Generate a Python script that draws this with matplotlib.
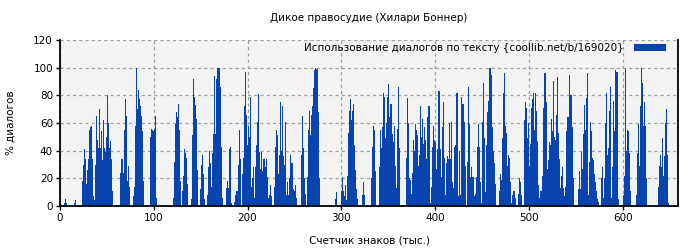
import matplotlib
matplotlib.use("Agg")
import matplotlib.pyplot as plt
import numpy as np

# Share of dialogue (%) per thousand characters, split by hundreds
share_001_100 = [
    0, 0, 0, 0, 2, 5, 2, 0, 0, 0, 0, 0, 0, 0, 2, 6, 4, 1, 0, 0, 0, 0, 0,
    18, 30, 41, 34, 16, 26, 34, 55, 60, 57, 58, 34, 7, 4, 30, 65, 48, 42, 70, 42,
    54, 33, 62, 42, 38, 39, 50, 80, 60, 42, 47, 34, 11,
    0, 0, 0, 0, 0, 0, 0,
    8, 24, 34, 34, 24, 55, 77, 65, 18, 29, 14,
    0, 0, 0,
    7, 14, 41, 58, 100, 70, 84, 77, 72, 65, 54, 18,
    0, 0, 0, 0, 0, 0,
    22, 50, 56, 55, 54,
]
share_101_200 = [
    56, 65, 6,
    0, 0, 0, 0, 0, 0, 0, 0, 0, 0, 0, 0, 0, 0, 0, 0, 0,
    6, 32, 59, 68, 64, 74, 55, 18, 0, 0,
    11, 22, 41, 38, 35, 16, 0, 0, 0,
    5, 51, 92, 79, 73, 73, 63, 26, 0, 0,
    12, 30, 37, 23, 5, 0, 0,
    8, 28, 40, 31, 27, 14, 38, 52, 94, 52, 92, 100, 100, 100, 86, 43, 6,
    0, 0, 0,
    3, 13, 18, 13, 41, 43, 2, 0, 0,
    3, 8, 11, 11, 30, 55, 34, 27, 0,
    23, 35, 72, 97, 66, 44,
]
share_201_300 = [
    58, 50, 79, 14, 20, 28, 6, 28, 32, 44, 61, 81, 39, 27, 39, 25, 34, 34, 28,
    34, 21, 6, 8, 15, 15, 7, 0, 0,
    14, 43, 55, 51, 23, 37, 75, 40, 72, 36, 30, 61, 42, 8, 17, 8, 20, 37, 31,
    31, 12, 11, 15, 6, 0, 0, 0, 0,
    5, 37, 65, 42, 20, 9, 1, 21, 55, 69, 51, 66, 72, 85, 98, 100, 100, 99, 99,
    68, 20,
    0, 0, 0, 0, 0, 0, 0, 0, 0, 0, 0, 0, 0, 0, 0, 0,
    5, 10, 0, 0, 0, 0, 11,
]
share_301_400 = [
    21, 11, 7, 15, 18, 4, 22, 53, 69, 77, 62, 69, 74, 44, 26, 12, 5,
    0, 0, 0, 0, 0, 8, 17, 8, 0, 0, 0, 0, 0, 0,
    20, 43, 58, 55, 25, 0, 0, 0, 0,
    28, 55, 42, 57, 82, 79, 49, 60, 79, 88, 64, 74, 74, 46, 52, 46, 58, 29, 13,
    56, 86, 42, 0, 0, 0, 0, 0, 0,
    35, 75, 78, 60, 20, 19, 9, 24, 48, 40, 59, 55, 51, 29, 37, 72, 50,
    32, 63, 45, 57, 48, 34, 64, 72, 72, 2, 14, 43, 58, 48, 46,
]
share_401_500 = [
    27, 8, 41, 83, 83, 41, 21, 57, 75, 35, 8, 31, 36, 34, 60, 34, 61, 33, 17,
    13, 43, 44, 82, 82, 7, 40, 8, 79, 74, 74, 61, 29, 0, 3, 32, 86, 59, 21, 28,
    21,
    21, 7, 9, 21, 43, 59, 43, 17, 2, 16, 61, 89, 49, 10, 44, 68, 76, 100, 100,
    95, 57, 40, 31, 16, 0, 0, 0, 0,
    11, 23, 19, 49, 82, 96, 58, 53, 29, 37, 35, 17, 2, 4, 8, 11, 11, 6, 0, 0,
    9, 20, 17, 8, 0, 0,
    62, 75, 71, 59, 49, 60,
]
share_501_600 = [
    29, 45, 71, 77, 82, 55, 82, 69, 47, 15, 6, 11, 11, 22, 31, 71, 96, 96, 75,
    27, 33, 46, 44, 63, 54, 90, 50, 48, 66, 93, 57, 53, 34, 13, 22, 28, 13, 7,
    14, 54, 64, 64, 95, 80, 80, 57, 60, 20, 0, 0, 0, 0,
    12, 25, 12, 39, 27, 52, 73, 55, 78, 96, 56, 8, 32, 61, 54, 35, 33, 23, 17,
    11, 5, 3, 0, 0,
    20, 28, 41, 6, 20, 60, 82, 37, 42, 69, 86, 6, 28, 76, 54, 98, 97, 97, 81, 5,
    0, 0, 0, 0,
]
share_601_649 = [
    8, 22, 99, 40, 55, 54, 38, 11, 0, 0, 0, 0, 0, 0,
    8, 38, 59, 29, 72, 100, 89, 58, 75, 58, 20,
    0, 0, 0, 0, 0, 0, 0, 0, 0, 0, 0, 0,
    14, 29, 37, 28, 49, 47, 22, 36, 60, 70, 37, 2,
]

x_ticks = [0, 100, 200, 300, 400, 500, 600]
y_ticks = [0, 20, 40, 60, 80, 100, 120]

title = "Дикое правосудие (Хилари Боннер)"
legend_label = "Использование диалогов по тексту {coollib.net/b/169020}"


def main():
    plt.rcParams["font.family"] = ["DejaVu Sans"]
    plt.rcParams["font.size"] = 7.5

    values = np.concatenate([share_001_100, share_101_200, share_201_300,
                             share_301_400, share_401_500, share_501_600,
                             share_601_649])
    pos = np.arange(1, len(values) + 1)

    fig = plt.figure(figsize=(7, 2.5), dpi=100)
    ax = fig.add_axes([0.0857, 0.176, 0.8829, 0.664])
    ax.set_facecolor("#f3f3f3")

    ax.bar(pos, values, width=1.0, color="#0844ad", linewidth=0,
           label=legend_label, zorder=2)

    ax.set_xlim(0, 659)
    ax.set_ylim(0, 120)
    ax.set_xticks(x_ticks)
    ax.set_yticks(y_ticks)
    ax.grid(True, color="#a0a0a0", linestyle=(0, (2.5, 2.5)), linewidth=0.9,
            zorder=1)
    ax.set_axisbelow(True)

    for side in ["left", "bottom", "right"]:
        ax.spines[side].set_linewidth(1.3)
        ax.spines[side].set_color("black")
    ax.spines["top"].set_visible(False)
    ax.tick_params(length=3, width=1, pad=2)

    ax.set_xlabel("Счетчик знаков (тыс.)", labelpad=9)
    ax.set_ylabel("% диалогов", labelpad=13)
    fig.text(0.527, 1 - 18 / 250, title, ha="center", va="center")

    ax.legend(loc="upper right", bbox_to_anchor=(0.983, 0.986),
              frameon=False, markerfirst=False,
              handlelength=3.1, handleheight=0.7, borderaxespad=0,
              borderpad=0.1, handletextpad=1.0)

    fig.savefig("out.png", dpi=100)


if __name__ == "__main__":
    main()
